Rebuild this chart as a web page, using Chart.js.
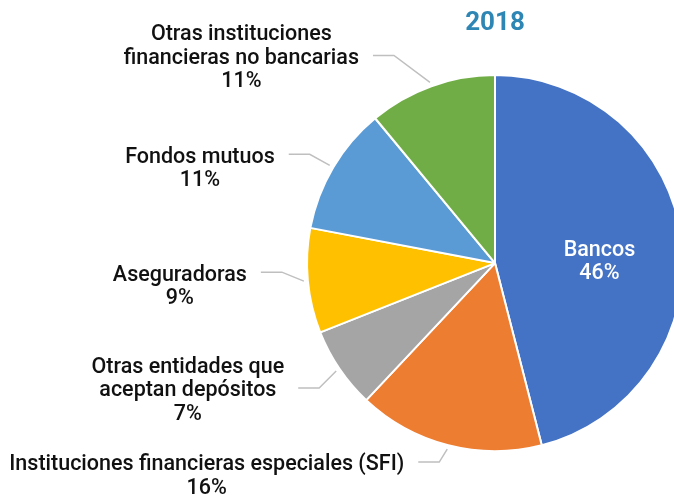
<!DOCTYPE html>
<html>
<head>
<meta charset="utf-8">
<script src="https://cdn.jsdelivr.net/npm/chart.js@4"></script>
<style>
  body { margin: 0; background: #fff; }
  #wrap { width: 674px; height: 498px; overflow: hidden; position: relative; }
</style>
</head>
<body>
<div id="wrap"><canvas id="myChart" width="990" height="498"></canvas></div>
<script>
// datos del grafico
const categorias = [
  ['Bancos'],
  ['Instituciones financieras especiales (SFI)'],
  ['Otras entidades que', 'aceptan depósitos'],
  ['Aseguradoras'],
  ['Fondos mutuos'],
  ['Otras instituciones', 'financieras no bancarias']
];
const valores = [46, 16, 7, 9, 11, 11];
const colores = ['#4472C4', '#ED7D31', '#A5A5A5', '#FFC000', '#5B9BD5', '#70AD47'];
const titulo = '2018';

// donde va cada etiqueta (codo de la linea guia respecto al borde del sector)
const etiquetas = [
  null,
  {dx: -8, dy: 13, row: 0},
  {dx: -17, dy: 17, row: 1},
  {dx: -22, dy: -9, row: 0},
  {dx: -20, dy: -11, row: 0},
  {dx: -36, dy: -27, row: 1}
];

const fuente = '500 21.5px Roboto';
const altoLinea = 23.5;

const etiquetasPlugin = {
  id: 'etiquetas',
  afterDatasetsDraw(chart) {
    let c = chart.ctx;
    let arcs = chart.getDatasetMeta(0).data;
    c.save();
    c.font = fuente;
    c.textBaseline = 'middle';
    c.textAlign = 'center';
    arcs.forEach((arc, i) => {
      let p = arc.getProps(['x', 'y', 'startAngle', 'endAngle', 'outerRadius'], true);
      let mid = (p.startAngle + p.endAngle) / 2;
      let lineas = categorias[i].concat([valores[i] + '%']);
      let conf = etiquetas[i];
      if (!conf) {
        // etiqueta dentro del sector
        let r = p.outerRadius * 0.56;
        let x = p.x + Math.cos(mid) * r;
        let y = p.y + Math.sin(mid) * r + 12;
        c.fillStyle = '#ffffff';
        lineas.forEach((t, k) => {
          c.fillText(t, x, y + (k - (lineas.length - 1) / 2) * altoLinea);
        });
        return;
      }
      let ax = p.x + Math.cos(mid) * (p.outerRadius + 4);
      let ay = p.y + Math.sin(mid) * (p.outerRadius + 4);
      let ex = ax + conf.dx;
      let ey = ay + conf.dy;
      let hx = ex - 21;
      c.strokeStyle = '#BFBFBF';
      c.lineWidth = 1.5;
      c.beginPath();
      c.moveTo(ax, ay);
      c.lineTo(ex, ey);
      c.lineTo(hx, ey);
      c.stroke();
      let ancho = 0;
      lineas.forEach(t => { ancho = Math.max(ancho, c.measureText(t).width); });
      let cx = hx - 14 - ancho / 2;
      c.fillStyle = '#111111';
      lineas.forEach((t, k) => {
        c.fillText(t, cx, ey + 3 + (k - conf.row) * altoLinea);
      });
    });
    c.restore();
  }
};

const ctx = document.getElementById('myChart');
let myChart = new Chart(ctx, {
  type: 'pie',
  data: {
    labels: categorias,
    datasets: [{
      data: valores,
      backgroundColor: colores,
      borderColor: '#ffffff',
      borderWidth: 2,
      radius: 188
    }]
  },
  options: {
    responsive: false,
    animation: false,
    layout: { padding: { top: 0, bottom: 11, left: 0, right: 0 } },
    plugins: {
      legend: { display: false },
      tooltip: { enabled: false },
      title: {
        display: true,
        text: titulo,
        color: '#2E86B5',
        font: { family: 'Roboto', size: 26, weight: 'bold', lineHeight: 1.2 },
        padding: { top: 8, bottom: 0 }
      }
    }
  },
  plugins: [etiquetasPlugin]
});
</script>
</body>
</html>
